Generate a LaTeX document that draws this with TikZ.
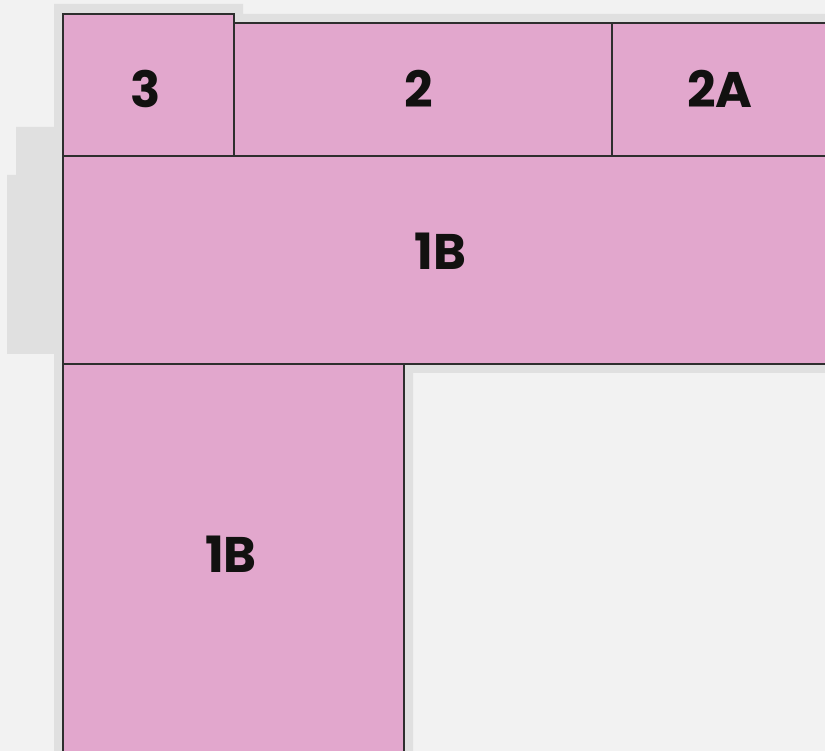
\documentclass[tikz,border=0pt]{standalone}
\usepackage{fontspec}
\newfontfamily\labelfont{Poppins}[UprightFont=* Bold]
\definecolor{bgc}{HTML}{F2F2F2}
\definecolor{shadowc}{HTML}{E0E0E0}
\definecolor{pinkc}{HTML}{E2A7CD}
\definecolor{linec}{HTML}{2E2E2E}
\definecolor{textc}{HTML}{121110}
\begin{document}
\begin{tikzpicture}[x=1pt,y=-1pt,
  room/.style={fill=pinkc,draw=linec,line width=1.5pt},
  lbl/.style={anchor=base,inner sep=0pt,text=textc,font=\labelfont\fontsize{50}{50}\selectfont}]
\useasboundingbox (0,0) rectangle (825,751);
\clip (0,0) rectangle (825,751);
\fill[bgc] (0,0) rectangle (825,751);
% shadow
\fill[shadowc] (54,4) -- (243,4) -- (243,14) -- (830,14) -- (830,373) -- (413,373) -- (413,760)
  -- (54,760) -- (54,354) -- (7,354) -- (7,175) -- (16,175) -- (16,127) -- (54,127) -- cycle;
% rooms
\draw[room] (63,14) rectangle (234,156);
\draw[room] (234,23) rectangle (612,156);
\draw[room] (612,23) rectangle (835,156);
\draw[room] (63,156) rectangle (835,364);
\draw[room] (63,364) rectangle (404,760);
% labels
\node[lbl] (l3) at (146,107.5) {3};
\node[lbl] (l2) at (419,107.5) {2};
\node[lbl] (l2a) at (720,107.5) {2A};
\node[lbl] (l1bt) at (440.5,269.5) {1B};
\node[lbl] (l1bb) at (231,572.5) {1B};
\end{tikzpicture}
\end{document}
